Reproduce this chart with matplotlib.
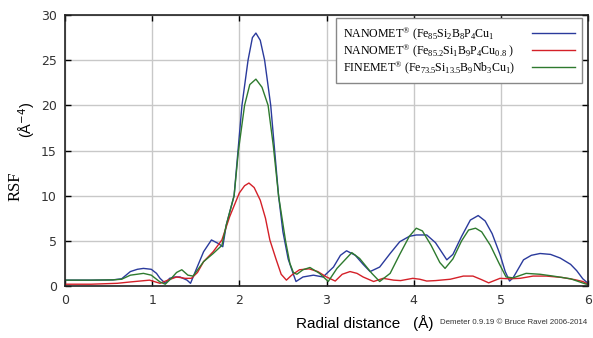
import matplotlib
matplotlib.use('Agg')
import matplotlib.pyplot as plt

plt.rcParams['mathtext.fontset'] = 'custom'
plt.rcParams['mathtext.rm'] = 'Liberation Serif'
plt.rcParams['mathtext.it'] = 'Liberation Serif'

# NANOMET Fe85Si2B8P4Cu1 (blue)
blue_r = [0.0, 0.3, 0.55, 0.65, 0.75, 0.83, 0.90, 0.99, 1.05, 1.09, 1.15, 1.20, 1.26, 1.32,
          1.40, 1.44, 1.51, 1.59, 1.68, 1.76, 1.81, 1.85, 1.94, 2.03, 2.10, 2.15, 2.19, 2.24,
          2.29, 2.36, 2.45, 2.50, 2.56, 2.62, 2.65, 2.73, 2.85, 2.96, 3.08, 3.16, 3.23, 3.33,
          3.42, 3.50, 3.61, 3.73, 3.84, 3.95, 4.03, 4.15, 4.25, 4.38, 4.45, 4.55, 4.65, 4.74,
          4.82, 4.90, 4.99, 5.05, 5.10, 5.14, 5.26, 5.35, 5.45, 5.57, 5.68, 5.80, 5.87, 5.94, 6.0]
blue_rsf = [0.65, 0.65, 0.68, 0.8, 1.6, 1.85, 1.95, 1.85, 1.4, 0.85, 0.3, 0.85, 1.0, 1.0,
            0.65, 0.3, 1.95, 3.8, 5.1, 4.7, 4.35, 6.75, 10, 20, 25, 27.5, 28, 27.2,
            25, 20, 10, 6.0, 3.0, 1.3, 0.5, 1.0, 1.2, 1.0, 2.1, 3.4, 3.9, 3.4,
            2.4, 1.6, 2.1, 3.6, 4.9, 5.5, 5.65, 5.65, 4.8, 2.9, 3.5, 5.5, 7.3, 7.8,
            7.2, 5.8, 3.5, 1.6, 0.55, 0.9, 2.9, 3.4, 3.6, 3.5, 3.1, 2.4, 1.7, 0.8, 0.3]

# NANOMET Fe85.2Si1B9P4Cu0.8 (red)
red_r = [0.0, 0.3, 0.6, 0.75, 0.97, 1.09, 1.18, 1.28, 1.38, 1.45, 1.52, 1.59, 1.70, 1.80,
         1.89, 2.0, 2.06, 2.11, 2.17, 2.24, 2.30, 2.35, 2.42, 2.48, 2.54, 2.60, 2.69, 2.80,
         2.90, 3.0, 3.10, 3.18, 3.27, 3.35, 3.42, 3.54, 3.65, 3.77, 3.85, 3.99, 4.07, 4.15,
         4.25, 4.42, 4.57, 4.68, 4.78, 4.86, 4.99, 5.10, 5.22, 5.37, 5.52, 5.70, 5.85, 5.94, 6.0]
red_rsf = [0.2, 0.2, 0.3, 0.45, 0.65, 0.3, 0.65, 1.0, 0.85, 0.85, 1.5, 2.7, 3.8, 5.1,
           7.7, 10.3, 11.1, 11.4, 10.9, 9.5, 7.5, 5.1, 3.0, 1.3, 0.65, 1.2, 1.8, 1.9,
           1.6, 1.0, 0.55, 1.3, 1.6, 1.4, 1.0, 0.5, 0.85, 0.65, 0.6, 0.85, 0.75, 0.55,
           0.6, 0.75, 1.1, 1.1, 0.7, 0.35, 0.85, 0.8, 0.85, 1.1, 1.1, 0.95, 0.7, 0.5, 0.2]

# FINEMET Fe73.5Si13.5B9Nb3Cu1 (green)
green_r = [0.0, 0.3, 0.55, 0.65, 0.75, 0.90, 0.99, 1.09, 1.15, 1.22, 1.28, 1.34, 1.41, 1.47,
           1.59, 1.70, 1.80, 1.85, 1.94, 1.99, 2.06, 2.12, 2.19, 2.26, 2.33, 2.39, 2.45, 2.53,
           2.58, 2.62, 2.66, 2.73, 2.81, 2.92, 3.02, 3.12, 3.29, 3.38, 3.52, 3.61, 3.73, 3.84,
           3.95, 4.03, 4.10, 4.20, 4.30, 4.36, 4.45, 4.55, 4.63, 4.71, 4.78, 4.88, 4.98, 5.06,
           5.14, 5.29, 5.45, 5.60, 5.80, 5.98]
green_rsf = [0.65, 0.65, 0.68, 0.75, 1.2, 1.4, 1.2, 0.45, 0.2, 0.85, 1.5, 1.8, 1.2, 1.1,
             2.7, 3.6, 4.5, 6.75, 10, 15, 20, 22.3, 22.9, 22.0, 20, 15.5, 10, 5,
             2.5, 1.5, 1.3, 1.8, 2.05, 1.4, 0.5, 1.95, 3.7, 3.05, 1.4, 0.5, 1.4, 3.5,
             5.5, 6.4, 6.1, 4.5, 2.6, 1.95, 3.0, 5.0, 6.2, 6.4, 6.0, 4.5, 2.5, 1.0,
             0.9, 1.4, 1.3, 1.1, 0.8, 0.2]

labels = [r'NANOMET$^{\circledR}$ (Fe$_{85}$Si$_{2}$B$_{8}$P$_{4}$Cu$_{1}$',
          r'NANOMET$^{\circledR}$ (Fe$_{85.2}$Si$_{1}$B$_{9}$P$_{4}$Cu$_{0.8}$ )',
          r'FINEMET$^{\circledR}$ (Fe$_{73.5}$Si$_{13.5}$B$_{9}$Nb$_{3}$Cu$_{1}$)']

fig = plt.figure(figsize=(5.93, 3.38), dpi=100)
ax = fig.add_axes([0.1096, 0.1538, 0.8820, 0.8018])

ax.plot(blue_r, blue_rsf, color='#2a3a9c', lw=1.0, label=labels[0])
ax.plot(red_r, red_rsf, color='#d42028', lw=1.0, label=labels[1])
ax.plot(green_r, green_rsf, color='#2e7a2e', lw=1.0, label=labels[2])

ax.set_xlim(0, 6)
ax.set_ylim(0, 30)
ax.set_xticks(range(0, 7))
ax.set_yticks(range(0, 31, 5))
ax.grid(True, color='#c8c8c8', lw=1.0)
ax.tick_params(direction='in', top=True, right=True, length=4, width=1,
               labelsize=9, labelcolor='#333333', pad=6)
for s in ax.spines.values():
    s.set_color('#222222')
    s.set_linewidth(1.2)

leg = ax.legend(loc='upper right', bbox_to_anchor=(0.989, 0.989), borderaxespad=0,
                markerfirst=False, handlelength=3.6, fancybox=False, framealpha=1,
                edgecolor='#888888', prop={'family': 'Liberation Serif', 'size': 8.6},
                labelspacing=0.0, borderpad=0.6, handletextpad=1.4)
leg.get_frame().set_linewidth(1.0)

# left-align the legend texts, keep the lines lined up on the right
fig.canvas.draw()
rend = fig.canvas.get_renderer()
widths = [t.get_window_extent(rend).width for t in leg.get_texts()]
col = leg._legend_handle_box.get_children()[0]
col.align = 'left'
for row, w in zip(col.get_children(), widths):
    row.sep += (max(widths) - w) * 72 / fig.dpi

fig.text(0.027, 0.45, 'RSF', rotation=90, ha='center', va='center',
         family='Liberation Serif', fontsize=12)
fig.text(0.045, 0.645, r'(Å$^{\mathsf{-4}}$)', rotation=90, ha='center', va='center',
         family='Liberation Sans', fontsize=10.5)
fig.text(0.615, 0.045, 'Radial distance   (Å)', ha='center', va='center',
         family='Liberation Sans', fontsize=11)
fig.text(0.742, 0.045, 'Demeter 0.9.19 © Bruce Ravel 2006-2014', ha='left', va='center',
         family='Liberation Sans', fontsize=5.7, color='#333333')

fig.savefig('out.png', dpi=100)
